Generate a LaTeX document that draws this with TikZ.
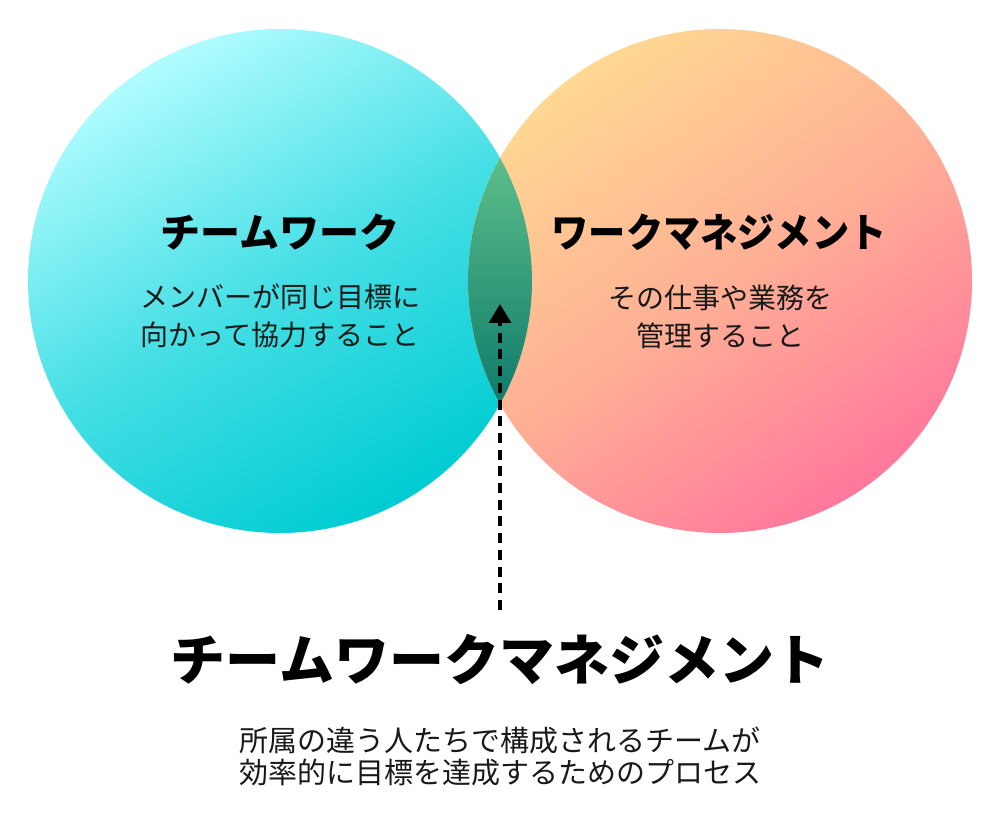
\documentclass[tikz,border=0pt]{standalone}
\usepackage{fontspec}
\usepackage{graphicx}
\newfontfamily\jp{Noto Sans CJK JP}
\usetikzlibrary{arrows.meta}
\definecolor{lctop}{RGB}{176,252,255}
\definecolor{lcmid}{RGB}{70,223,229}
\definecolor{lcbot}{RGB}{0,204,210}
\definecolor{rctop}{RGB}{255,216,146}
\definecolor{rcmid}{RGB}{255,176,149}
\definecolor{rcbot}{RGB}{255,120,156}
\definecolor{lenstop}{RGB}{92,190,137}
\definecolor{lensbot}{RGB}{14,123,108}
\definecolor{subtext}{RGB}{25,25,25}
\tikzset{
  heading/.style={font=\jp\bfseries\fontsize{40}{44}\selectfont, text=black, inner sep=0pt},
  bigtitle/.style={font=\jp\bfseries\fontsize{55}{60}\selectfont, text=black, inner sep=0pt},
  desc/.style={font=\jp\fontsize{28}{38}\selectfont, text=subtext, align=center, inner sep=0pt},
  bottomdesc/.style={font=\jp\fontsize{29}{32}\selectfont, text=subtext, align=center, inner sep=0pt},
  connector/.style={line width=3.3pt, dash pattern=on 10pt off 6.7pt, -{Triangle[length=19pt,width=22pt]}}
}
\begin{document}
\begin{tikzpicture}[x=1pt,y=1pt]
\useasboundingbox (0,0) rectangle (1000,813);
% circles
\path[top color=lctop, bottom color=lcbot, middle color=lcmid, shading angle=30] (280,532) circle[radius=252];
\path[top color=rctop, bottom color=rcbot, middle color=rcmid, shading angle=35] (720,532) circle[radius=252];
% overlap lens
\path[top color=lenstop, bottom color=lensbot]
  (500,655) arc[start angle=150.81, end angle=209.19, radius=252]
  arc[start angle=-29.19, end angle=29.19, radius=252] -- cycle;
% texts
\node[heading] (tw) at (280,581) {チームワーク};
\node[heading] (wm) at (719,581) {\scalebox{0.93}[1]{ワークマネジメント}};
\node[desc] (twd) at (280,497) {メンバーが同じ目標に\\向かって協力すること};
\node[desc] (wmd) at (720,496) {その仕事や業務を\\管理すること};
\node[bigtitle] (title) at (500,153) {チームワークマネジメント};
\node[bottomdesc] (titled) at (500,57) {所属の違う人たちで構成されるチームが\\効率的に目標を達成するためのプロセス};
% arrow
\coordinate (arrowfrom) at (500,203);
\coordinate (arrowto) at (500,509);
\draw[connector] (arrowfrom) -- (arrowto);
\end{tikzpicture}
\end{document}
